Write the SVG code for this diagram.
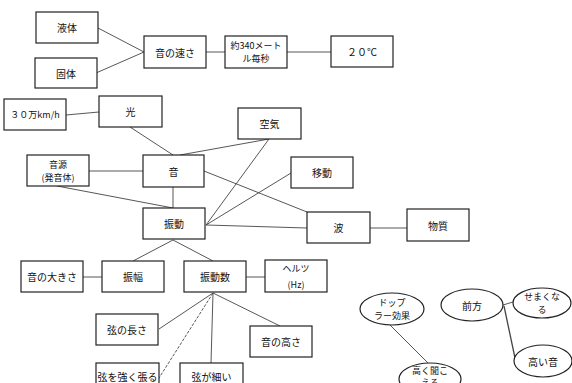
<svg xmlns="http://www.w3.org/2000/svg" width="572" height="383" viewBox="0 0 572 383">
<style>
.b{fill:#fff;stroke:#222;stroke-width:1.2}
.t{font-family:"Noto Sans CJK JP","Noto Sans",sans-serif;font-size:10px;fill:#111;text-anchor:middle;dominant-baseline:central}
.s{font-size:9px}
.c line{stroke:#444;stroke-width:0.9}
</style>
<rect width="572" height="383" fill="#fff"/>
<g class="c">
<line x1="98" y1="28" x2="144" y2="52"/>
<line x1="96" y1="73" x2="144" y2="52"/>
<line x1="206" y1="52" x2="225" y2="52"/>
<line x1="287" y1="52" x2="331" y2="52"/>
<line x1="66" y1="115" x2="99" y2="112"/>
<line x1="130" y1="127" x2="173" y2="155"/>
<line x1="269" y1="139" x2="180" y2="155"/>
<line x1="269" y1="139" x2="206" y2="225"/>
<line x1="89" y1="171" x2="143" y2="171"/>
<line x1="57" y1="186" x2="173" y2="208"/>
<line x1="173" y1="187" x2="173" y2="208"/>
<line x1="204" y1="171" x2="307" y2="212"/>
<line x1="206" y1="225" x2="291" y2="173"/>
<line x1="206" y1="225" x2="307" y2="228"/>
<line x1="370" y1="228" x2="407" y2="228"/>
<line x1="173" y1="240" x2="133" y2="261"/>
<line x1="173" y1="240" x2="213" y2="261"/>
<line x1="83" y1="277" x2="102" y2="277"/>
<line x1="246" y1="277" x2="265" y2="277"/>
<line x1="213" y1="293" x2="159" y2="329"/>
<line x1="213" y1="293" x2="280" y2="326"/>
<line x1="213" y1="293" x2="211" y2="363"/>
<line x1="213" y1="293" x2="159" y2="378" stroke-dasharray="3 1.5"/>
<line x1="390" y1="325" x2="428" y2="363"/>
<line x1="503" y1="305" x2="513" y2="302"/>
<line x1="504" y1="306" x2="515" y2="358" style="stroke-width:1.3"/>
</g>
<g id="n-liquid"><rect class="b" x="36" y="12" width="62" height="31"/><text class="t" x="67" y="27.5">液体</text></g>
<g id="n-solid"><rect class="b" x="35" y="58" width="62" height="30"/><text class="t" x="66" y="73">固体</text></g>
<g id="n-speed"><rect class="b" x="144" y="36" width="62" height="32"/><text class="t" x="175" y="52">音の速さ</text></g>
<g id="n-340"><rect class="b" x="225" y="36" width="62" height="32"/><text class="t s" x="256" y="45.5">約340メート</text><text class="t s" x="256" y="58">ル毎秒</text></g>
<g id="n-20c"><rect class="b" x="331" y="36" width="62" height="31"/><text class="t" x="362" y="51.5">２０℃</text></g>
<g id="n-30man"><rect class="b" x="4" y="99" width="62" height="31"/><text class="t s" x="35" y="114.5">３０万km/h</text></g>
<g id="n-light"><rect class="b" x="99" y="96" width="63" height="31"/><text class="t" x="130.5" y="111.5">光</text></g>
<g id="n-air"><rect class="b" x="238" y="108" width="63" height="31"/><text class="t" x="269.5" y="123.5">空気</text></g>
<g id="n-source"><rect class="b" x="27" y="155" width="62" height="31"/><text class="t s" x="58" y="164.5">音源</text><text class="t s" x="58" y="177">(発音体)</text></g>
<g id="n-sound"><rect class="b" x="143" y="155" width="61" height="32"/><text class="t" x="173.5" y="171">音</text></g>
<g id="n-move"><rect class="b" x="291" y="157" width="62" height="31"/><text class="t" x="322" y="172.5">移動</text></g>
<g id="n-vib"><rect class="b" x="143" y="208" width="62" height="31"/><text class="t" x="174" y="223.5">振動</text></g>
<g id="n-wave"><rect class="b" x="307" y="212" width="63" height="31"/><text class="t" x="338.5" y="227.5">波</text></g>
<g id="n-matter"><rect class="b" x="407" y="209" width="62" height="32"/><text class="t" x="438" y="225">物質</text></g>
<g id="n-loud"><rect class="b" x="21" y="261" width="62" height="31"/><text class="t" x="52" y="276.5">音の大きさ</text></g>
<g id="n-amp"><rect class="b" x="102" y="261" width="62" height="31"/><text class="t" x="133" y="276.5">振幅</text></g>
<g id="n-freq"><rect class="b" x="184" y="261" width="62" height="31"/><text class="t" x="215" y="276.5">振動数</text></g>
<g id="n-hz"><rect class="b" x="265" y="260" width="62" height="32"/><text class="t s" x="296" y="268">ヘルツ</text><text class="t s" x="296" y="284">(Hz)</text></g>
<g id="n-len"><rect class="b" x="96" y="314" width="62" height="31"/><text class="t" x="127" y="329.5">弦の長さ</text></g>
<g id="n-pitch"><rect class="b" x="250" y="326" width="62" height="31"/><text class="t" x="281" y="341.5">音の高さ</text></g>
<g id="n-tight"><rect class="b" x="96" y="363" width="63" height="32"/><text class="t" x="127.5" y="376">弦を強く張る</text></g>
<g id="n-thin"><rect class="b" x="180" y="363" width="63" height="32"/><text class="t" x="211.5" y="376">弦が細い</text></g>
<g id="n-doppler"><ellipse class="b" cx="392" cy="309" rx="32" ry="16"/><text class="t s" x="392" y="302.5">ドップ</text><text class="t s" x="392" y="315">ラー効果</text></g>
<g id="n-front"><ellipse class="b" cx="472" cy="305" rx="31" ry="16"/><text class="t" x="472" y="305">前方</text></g>
<g id="n-narrow"><ellipse class="b" cx="542" cy="303" rx="29" ry="15"/><text class="t s" x="542" y="296.5">せまくな</text><text class="t s" x="542" y="309">る</text></g>
<g id="n-high"><ellipse class="b" cx="543" cy="361" rx="29" ry="16"/><text class="t" x="543" y="361">高い音</text></g>
<g id="n-heard"><ellipse class="b" cx="430" cy="379" rx="31" ry="16"/><text class="t s" x="430" y="370">高く聞こ</text><text class="t s" x="430" y="382">える</text></g>
</svg>
